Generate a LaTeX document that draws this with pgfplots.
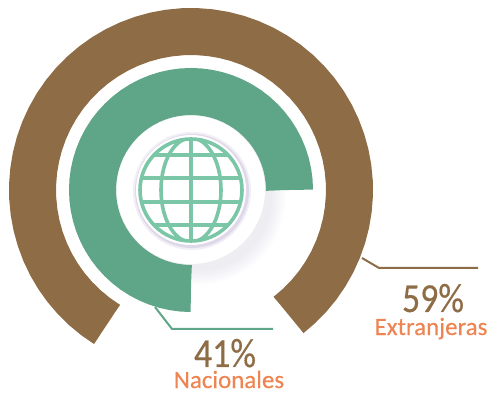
\documentclass[border=0pt]{standalone}
\usepackage{pgfplots}
\pgfplotsset{compat=1.18}
\usepackage{fontspec}
\setmainfont{Carlito}
\newfontfamily\labelfont[FakeBold=0.35]{Carlito}
\definecolor{ringbrown}{HTML}{8E6C45}
\definecolor{ringgreen}{HTML}{5FA588}
\definecolor{globegreen}{HTML}{7CC6A8}
\definecolor{labelorange}{HTML}{EE8452}
\definecolor{haze}{HTML}{8E84A8}
\definecolor{lavender}{HTML}{D6CFE4}
\begin{document}
\begin{tikzpicture}
\useasboundingbox (0,0) rectangle (492bp,393bp);
\begin{axis}[
  at={(0,0)}, anchor=south west,
  width=492bp, height=393bp, scale only axis,
  xmin=-191, xmax=301, ymin=-203, ymax=190,
  hide axis, clip=false,
]
% Soft shadow of the central disc, falling on the open quadrant
\pgfplotsinvokeforeach{88,86,84,82,80,78,76,74}{
  \fill[haze, fill opacity=0.02] (axis cs:7,-7) circle[radius=#1bp];
}
% Outer ring: Extranjeras
\addplot[no marks, line width=47bp, color=ringbrown, data cs=polar] coordinates {
(-52,158.5)(-51.9,158.5)(-47,158.5)(-42,158.5)(-37,158.5)(-32,158.5)(-27,158.5)(-22,158.5)(-17,158.5)(-12,158.5)(-7,158.5)(-2,158.5)
(3,158.5)(8,158.5)(13,158.5)(18,158.5)(23,158.5)(28,158.5)(33,158.5)(38,158.5)(43,158.5)(48,158.5)(53,158.5)(58,158.5)
(63,158.5)(68,158.5)(73,158.5)(78,158.5)(83,158.5)(88,158.5)(93,158.5)(98,158.5)(103,158.5)(108,158.5)(113,158.5)
(118,158.5)(123,158.5)(128,158.5)(133,158.5)(138,158.5)(143,158.5)(148,158.5)(153,158.5)(158,158.5)(163,158.5)
(168,158.5)(173,158.5)(178,158.5)(183,158.5)(188,158.5)(193,158.5)(198,158.5)(203,158.5)(208,158.5)(213,158.5)
(218,158.5)(223,158.5)(228,158.5)(233,158.5)(237.9,158.5)(238,158.5)};
% Inner ring: Nacionales
\addplot[no marks, line width=47bp, color=ringgreen, data cs=polar] coordinates {
(0,98.5)(0.1,98.5)(5,98.5)(10,98.5)(15,98.5)(20,98.5)(25,98.5)(30,98.5)(35,98.5)(40,98.5)(45,98.5)(50,98.5)(55,98.5)(60,98.5)
(65,98.5)(70,98.5)(75,98.5)(80,98.5)(85,98.5)(90,98.5)(95,98.5)(100,98.5)(105,98.5)(110,98.5)(115,98.5)(120,98.5)
(125,98.5)(130,98.5)(135,98.5)(140,98.5)(145,98.5)(150,98.5)(155,98.5)(160,98.5)(165,98.5)(170,98.5)(175,98.5)
(180,98.5)(185,98.5)(190,98.5)(195,98.5)(200,98.5)(205,98.5)(210,98.5)(215,98.5)(220,98.5)(225,98.5)(230,98.5)
(235,98.5)(240,98.5)(245,98.5)(250,98.5)(255,98.5)(260,98.5)(265,98.5)(269.9,98.5)(270,98.5)};
% Leader lines
\addplot[no marks, line width=2bp, color=ringbrown] coordinates {(171,-68)(188,-78)(287,-78)};
\addplot[no marks, line width=2bp, color=ringgreen] coordinates {(-36,-117)(-19,-139)(82,-139)};
\fill[white] (axis cs:0,0) circle[radius=74bp];
% Recessed seat of the globe
\fill[lavender!35] (axis cs:1,-1) circle[radius=59bp];
\fill[lavender!80] (axis cs:1,-1) circle[radius=57bp];
\fill[white] (axis cs:0,0) circle[radius=55bp];
% Globe
\begin{scope}
  \clip (axis cs:0,0) circle[radius=52bp];
  \draw[globegreen, line width=3.6bp]
    (axis cs:-60,35) -- (axis cs:60,35)
    (axis cs:-60,12) -- (axis cs:60,12)
    (axis cs:-60,-12) -- (axis cs:60,-12)
    (axis cs:-60,-35) -- (axis cs:60,-35)
    (axis cs:0,-60) -- (axis cs:0,60)
    (axis cs:0,0) circle[x radius=30bp, y radius=52bp];
\end{scope}
\draw[globegreen, line width=3.6bp] (axis cs:0,0) circle[radius=51bp];
% Labels
\node[anchor=base, inner sep=0pt, text=ringbrown, font=\labelfont\fontsize{36}{36}\selectfont, yscale=1.15] at (axis cs:242,-122) {59\%};
\node[anchor=base, inner sep=0pt, text=labelorange, font=\labelfont\fontsize{25}{25}\selectfont] at (axis cs:240,-145) {Extranjeras};
\node[anchor=base, inner sep=0pt, text=ringbrown, font=\labelfont\fontsize{36}{36}\selectfont, yscale=1.15] at (axis cs:34,-177) {41\%};
\node[anchor=base, inner sep=0pt, text=labelorange, font=\labelfont\fontsize{25}{25}\selectfont] at (axis cs:38,-198) {Nacionales};
\end{axis}
\end{tikzpicture}
\end{document}
